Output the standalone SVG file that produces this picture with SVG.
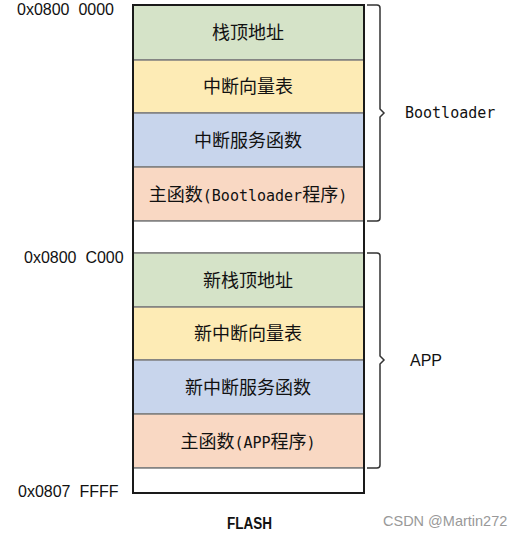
<svg xmlns="http://www.w3.org/2000/svg" width="522" height="536" viewBox="0 0 522 536">
<style>
.cell{stroke:#7f7f7f;stroke-width:1.5}
.g{fill:#d5e3c8}.y{fill:#fdebb5}.b{fill:#c8d5ec}.p{fill:#f9d8c3}.w{fill:#ffffff}
.t{font-family:"Noto Sans CJK SC","Noto Sans",sans-serif;font-size:18px;fill:#111;text-anchor:middle}
.l{font-family:"DejaVu Sans Mono","Liberation Mono",monospace;font-size:15px}
.a{font-family:"Liberation Sans","Noto Sans",sans-serif;font-size:16px;fill:#111;white-space:pre}
.m{font-family:"DejaVu Sans Mono","Liberation Mono",monospace;font-size:15px;fill:#111}
.br{fill:none;stroke:#333;stroke-width:1.5}
</style>
<rect width="522" height="536" fill="#fff"/>
<g id="flash">
<g id="n1"><rect class="cell g" x="133" y="5" width="231" height="55"/><text class="t" x="248" y="39">栈顶地址</text></g>
<g id="n2"><rect class="cell y" x="133" y="60" width="231" height="53"/><text class="t" x="248" y="93">中断向量表</text></g>
<g id="n3"><rect class="cell b" x="133" y="113" width="231" height="54"/><text class="t" x="248" y="147">中断服务函数</text></g>
<g id="n4"><rect class="cell p" x="133" y="167" width="231" height="54"/><text class="t" x="248" y="201">主函数<tspan class="l">(Bootloader</tspan>程序<tspan class="l">)</tspan></text></g>
<g id="n5"><rect class="cell w" x="133" y="221" width="231" height="32"/></g>
<g id="n6"><rect class="cell g" x="133" y="253" width="231" height="54"/><text class="t" x="248" y="287">新栈顶地址</text></g>
<g id="n7"><rect class="cell y" x="133" y="307" width="231" height="53"/><text class="t" x="248" y="340">新中断向量表</text></g>
<g id="n8"><rect class="cell b" x="133" y="360" width="231" height="54"/><text class="t" x="248" y="394">新中断服务函数</text></g>
<g id="n9"><rect class="cell p" x="133" y="414" width="231" height="54"/><text class="t" x="248" y="448">主函数<tspan class="l">(APP</tspan>程序<tspan class="l">)</tspan></text></g>
<g id="n10"><rect class="cell w" x="133" y="468" width="231" height="25"/></g>
<rect x="133" y="5" width="231" height="488" fill="none" stroke="#1a1a1a" stroke-width="2"/>
</g>
<g id="connectors">
<path class="br" d="M367,5 H377 Q380,5 380,8 V109 L384,113 L380,117 V218 Q380,221 377,221 H367"/>
<path class="br" d="M367,253 H377 Q380,253 380,256 V356 L384,360 L380,364 V465 Q380,468 377,468 H367"/>
</g>
<g id="labels">
<text class="a" x="17" y="15" xml:space="preserve">0x0800  0000</text>
<text class="a" x="24" y="263" xml:space="preserve">0x0800  C000</text>
<text class="a" x="18" y="497" xml:space="preserve">0x0807  FFFF</text>
<text class="m" x="405" y="118">Bootloader</text>
<text class="a" x="410" y="366">APP</text>
<text x="227" y="529" font-family="Liberation Sans,sans-serif" font-size="16" font-weight="bold" fill="#111" textLength="45" lengthAdjust="spacingAndGlyphs">FLASH</text>
<text x="383" y="526" font-family="Liberation Sans,sans-serif" font-size="14.5" fill="#999">CSDN @Martin272</text>
</g>
</svg>
